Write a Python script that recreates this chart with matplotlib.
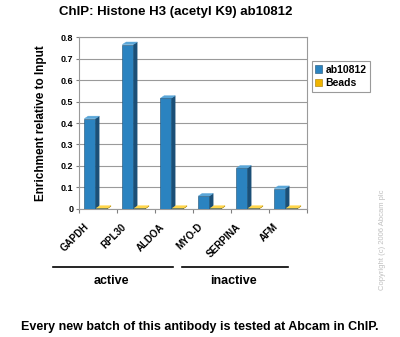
import matplotlib
matplotlib.use("Agg")
import matplotlib.pyplot as plt
from matplotlib.patches import Polygon
import numpy as np

plt.rcParams['font.family'] = ['Liberation Sans', 'DejaVu Sans']

categories = ["GAPDH", "RPL30", "ALDOA", "MYO-D", "SERPINA", "AFM"]
ab10812 = [0.42, 0.765, 0.515, 0.06, 0.19, 0.095]
beads = [0.003, 0.003, 0.003, 0.003, 0.003, 0.003]
yticks = [0, 0.1, 0.2, 0.3, 0.4, 0.5, 0.6, 0.7, 0.8]
group_names = ["active", "inactive"]
group_spans = [(-1.18, 1.97), (2.21, 5.0)]

fig = plt.figure(figsize=(4.0, 3.37), dpi=100)
ax = fig.add_axes([0.1975, 0.380, 0.57, 0.510])

x = np.arange(len(categories))
w = 0.29
dx, dy = 0.1, 0.012


def bar3d(xs, vals, face, side, top, offset):
    for xi, v in zip(xs, vals):
        x0 = xi + offset
        ax.add_patch(Polygon([[x0 + w, 0], [x0 + w + dx, dy], [x0 + w + dx, v + dy], [x0 + w, v]],
                             closed=True, facecolor=side, edgecolor=side, lw=0.3, zorder=3))
        ax.add_patch(Polygon([[x0, v], [x0 + dx, v + dy], [x0 + w + dx, v + dy], [x0 + w, v]],
                             closed=True, facecolor=top, edgecolor=top, lw=0.3, zorder=3))
    ax.bar(xs + offset, vals, width=w, align='edge', color=face, edgecolor='#1d4f72',
           linewidth=0.4, zorder=4)


bar3d(x, ab10812, '#2b83c0', '#1b4f77', '#5aa6d8', -0.36)
bar3d(x, beads, '#f0b400', '#a07800', '#ffd54a', -0.05)

ax.set_xlim(-0.5, 5.5)
ax.set_ylim(0, 0.8)
ax.set_yticks(yticks)
ax.set_yticklabels(["0"] + [f"{t:.1f}" for t in yticks[1:]], fontsize=6.5, fontweight='bold')
ax.yaxis.grid(True, color='#9a9a9a', lw=0.8, zorder=0)
ax.set_axisbelow(True)
for s in ax.spines.values():
    s.set_color('#9a9a9a')
    s.set_linewidth(0.8)
ax.tick_params(axis='y', length=2, color='#808080', pad=2)

ax.set_xticks(np.arange(len(categories) + 1) - 0.5, minor=False)
ax.set_xticklabels([])
ax.tick_params(axis='x', length=3, color='#808080', direction='out')
for xi, c in zip(x, categories):
    ax.text(xi - 0.2, -0.06, c, rotation=45, ha='right', va='top', fontsize=7,
            fontweight='bold', rotation_mode='anchor' if False else 'default')

ax.set_ylabel("Enrichment relative to Input", fontsize=8.5, fontweight='bold', labelpad=10)

for name, (xa, xb) in zip(group_names, group_spans):
    ax.plot([xa, xb], [-0.27, -0.27], color='black', lw=1.2, clip_on=False)
    ax.text((xa + xb) / 2 - 0.05, -0.335, name, ha='center', va='center', fontsize=9,
            fontweight='bold')

leg = ax.legend(handles=[plt.Rectangle((0, 0), 1, 1, fc='#2b83c0', ec='#1d4f72', lw=0.4),
                         plt.Rectangle((0, 0), 1, 1, fc='#f0b400', ec='#a07800', lw=0.4)],
                labels=["ab10812", "Beads"], loc='upper left', bbox_to_anchor=(1.02, 0.86),
                prop={'size': 7.5, 'weight': 'bold'}, handlelength=0.7, handleheight=0.7,
                handletextpad=0.3, borderpad=0.35, labelspacing=0.3, fancybox=False,
                edgecolor='#9a9a9a', framealpha=1, borderaxespad=0)
leg.get_frame().set_linewidth(0.8)

fig.text(0.44, 0.965, "ChIP: Histone H3 (acetyl K9) ab10812", ha='center', va='center',
         fontsize=9.5, fontweight='bold')
fig.text(0.5, 0.03, "Every new batch of this antibody is tested at Abcam in ChIP.", ha='center',
         va='center', fontsize=9, fontweight='bold')
fig.text(0.955, 0.29, "Copyright (c) 2006 Abcam plc", rotation=90, ha='center', va='center',
         fontsize=5.5, color='#c0c0c0')

fig.savefig("out.png", dpi=100)
